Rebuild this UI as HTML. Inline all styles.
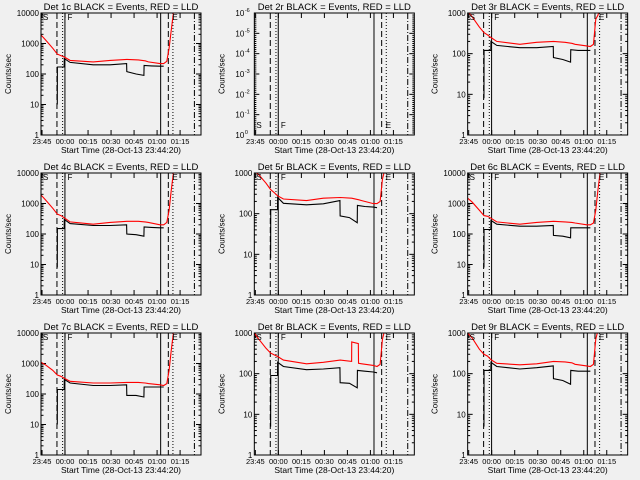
<!DOCTYPE html>
<html><head><meta charset="utf-8"><style>
html,body{margin:0;padding:0;background:#f0f0f0;}
svg{display:block;font-family:"Liberation Sans",sans-serif;}
</style></head><body>
<svg id="chart" width="640" height="480" viewBox="0 0 640 480" xmlns="http://www.w3.org/2000/svg">
<rect x="0" y="0" width="640" height="480" fill="#f0f0f0"/>
</svg>
<script>
const detNames = ["1c","2r","3r","4c","5r","6c","7c","8r","9r"];
const xTickLabels = ["23:45","00:00","00:15","00:30","00:45","01:00","01:15"];
const xTickMinutes = [0.67,15.67,30.67,45.67,60.67,75.67,90.67];
const redTimes = [0,3,7.6,10.6,13,15.2,19,34,45,56,63.4,63.5,67.8,67.9,70,77.6,80,82,83.5,85,86.5,88];
const blackTimes = [10.6,10.7,11.9,12,15.1,15.2,19,34,45,55.8,55.9,62,67.1,67.2,72,77.6,80];
const red1c = [1900,1300,700,450,400,360,280,250,280,300,290,290,270,270,250,220,220,260,700,3000,12000,30000];
const red3r = [1100,800,450,330,290,250,200,170,190,200,190,190,180,180,170,155,150,170,700,900,1500,3000];
const red4c = [1900,1300,700,450,400,340,250,210,240,260,260,260,250,250,240,200,200,240,600,3000,12000,30000];
const red5r = [1100,900,560,390,330,275,230,210,240,250,240,240,220,220,210,177,177,200,700,1200,2000,5000];
const red6c = [1500,1100,600,400,380,330,250,210,240,260,250,250,240,240,230,200,200,230,600,3000,12000,30000];
const red7c = [1100,900,600,420,380,330,260,230,230,240,240,240,230,230,220,200,190,220,600,3000,12000,30000];
const red8r = [1000,700,420,320,290,265,215,175,190,215,200,600,550,180,175,160,150,170,700,1200,2000,5000];
const red9r = [1000,750,400,300,270,220,180,165,175,200,195,195,185,185,170,155,150,170,700,1200,2000,5000];
const black1c = [10,170,170,170,170,320,240,200,200,220,120,100,90,190,185,180,180];
const black3r = [8,120,120,120,120,200,160,140,140,150,80,72,62,125,120,120,120];
const black4c = [8,150,150,150,150,300,220,190,190,200,100,95,85,170,165,160,160];
const black5r = [8,125,125,125,125,250,180,165,175,210,88,80,60,160,150,145,140];
const black6c = [8,140,140,140,140,280,210,180,180,190,90,85,75,160,160,160,160];
const black7c = [10,140,140,140,140,300,230,190,190,200,90,90,80,170,170,170,170];
const black8r = [5,90,90,90,90,190,150,125,130,140,60,58,45,120,115,110,105];
const black9r = [5,120,120,120,120,190,150,130,140,155,75,68,55,120,115,115,115];
const redSeries = [red1c,null,red3r,red4c,red5r,red6c,red7c,red8r,red9r];
const blackSeries = [black1c,null,black3r,black4c,black5r,black6c,black7c,black8r,black9r];
const vlineTimes = [10.4,14.1,15.6,78,83,86,100];
const vlineStyles = ["6,3","1,2","","","6,3","1,2","6,2,1,2"];

const NS="http://www.w3.org/2000/svg";
const svg=document.getElementById('chart');
function mk(tag,attrs,parent){const e=document.createElementNS(NS,tag);for(const k in attrs)e.setAttribute(k,attrs[k]);(parent||svg).appendChild(e);return e;}
const PX0=41,PX1=201,PY0=13,PY1=135,TMAX=104.3;

detNames.forEach((nm,i)=>{
  const col=i%3,row=Math.floor(i/3);
  const g=mk('g',{transform:`translate(${(col*213.33).toFixed(2)},${row*160})`});
  
  
  const isC=nm.endsWith('c'), isEmpty=(i===1);
  const decades=isC?4:3;
  const xs=t=>PX0+t/TMAX*(PX1-PX0);
  const ys=v=>PY1-Math.log10(v)/decades*(PY1-PY0);
  const cid='clip'+i;
  const cp=mk('clipPath',{id:cid},g);mk('rect',{x:PX0,y:PY0,width:PX1-PX0,height:PY1-PY0},cp);
  const tt=mk('text',{x:121,y:10,'font-size':'9.5','text-anchor':'middle',fill:'#000'},g);
  tt.textContent='Det '+nm+' BLACK = Events, RED = LLD';
  
  
  const yt=mk('text',{x:0,y:0,'font-size':'8','text-anchor':'middle',transform:'translate(11,74) rotate(-90)'},g);
  yt.textContent='Counts/sec';
  
  
  const xt=mk('text',{x:121,y:153,'font-size':'8.5','text-anchor':'middle'},g);
  xt.textContent='Start Time (28-Oct-13 23:44:20)';
  
  
  xTickMinutes.forEach((m,k)=>{
    const x=xs(m);
    mk('line',{x1:x,x2:x,y1:PY1,y2:PY1-5,stroke:'#000','stroke-width':1},g);
    mk('line',{x1:x,x2:x,y1:PY0,y2:PY0+5,stroke:'#000','stroke-width':1},g);
    const tl=mk('text',{x:x,y:144,'font-size':'7.5','text-anchor':'middle'},g);
    tl.textContent=xTickLabels[k];
    
    
  });
  if(isEmpty){
    const labs=["0","-1","-2","-3","-4","-5","-6"];
    for(let d=0;d<=6;d++){
      const y=PY1-d/6*(PY1-PY0);
      mk('line',{x1:PX0,x2:PX0+5,y1:y,y2:y,stroke:'#000'},g);
      mk('line',{x1:PX1,x2:PX1-5,y1:y,y2:y,stroke:'#000'},g);
      if(d<6)for(let m=1;m<10;m++){const yy=y-m/10*(PY1-PY0)/6;mk('line',{x1:PX0,x2:PX0+2,y1:yy,y2:yy,stroke:'#000'},g);mk('line',{x1:PX1,x2:PX1-2,y1:yy,y2:yy,stroke:'#000'},g);}
      const tl=mk('text',{x:31,y:y+3,'font-size':'8','text-anchor':'end'},g);
      tl.textContent='10';
      
      
      const sp=mk('text',{x:31.5,y:y-1,'font-size':'5.5','text-anchor':'start'},g);
      sp.textContent=labs[d];
    }
  } else {
    for(let d=0;d<=decades;d++){
      const v=Math.pow(10,d),y=ys(v);
      mk('line',{x1:PX0,x2:PX0+5,y1:y,y2:y,stroke:'#000'},g);
      mk('line',{x1:PX1,x2:PX1-5,y1:y,y2:y,stroke:'#000'},g);
      if(d<decades)for(let m=2;m<10;m++){const yy=ys(v*m);mk('line',{x1:PX0,x2:PX0+2.5,y1:yy,y2:yy,stroke:'#000'},g);mk('line',{x1:PX1,x2:PX1-2.5,y1:yy,y2:yy,stroke:'#000'},g);}
      const tl=mk('text',{x:39,y:y+3,'font-size':'8','text-anchor':'end'},g);
      tl.textContent=String(v);
      
      
    }
  }
  vlineTimes.forEach((t,k)=>{
    const x=xs(t);
    const a={x1:x,x2:x,y1:PY0,y2:PY1,stroke:'#000','stroke-width':1};
    if(vlineStyles[k])a['stroke-dasharray']=vlineStyles[k];
    const l=mk('line',a,g);
    
    
  });
  const pg=mk('g',{'clip-path':`url(#${cid})`},g);
  if(blackSeries[i]){
    const d=blackTimes.map((t,k)=>(k?'L':'M')+xs(t).toFixed(1)+','+ys(blackSeries[i][k]).toFixed(1)).join('');
    const p=mk('path',{d:d,fill:'none',stroke:'#000','stroke-width':1.1},pg);
    
    
  }
  if(redSeries[i]){
    const d=redTimes.map((t,k)=>(k?'L':'M')+xs(t).toFixed(1)+','+ys(redSeries[i][k]).toFixed(1)).join('');
    const p=mk('path',{d:d,fill:'none',stroke:'#ff0000','stroke-width':1.1},pg);
    
    
  }
  const ay=isEmpty?128:20;
  [['S',xs(0)+2],['F',xs(16)+2],['E',xs(85)+1]].forEach(([s,x])=>{
    const a=mk('text',{x:x,y:ay,'font-size':'8'},g);
    a.textContent=s;
    
    
  });
  const fr=mk('rect',{x:PX0,y:PY0,width:PX1-PX0,height:PY1-PY0,fill:'none',stroke:'#000','stroke-width':1},g);
  
  
});
</script>
</body></html>
